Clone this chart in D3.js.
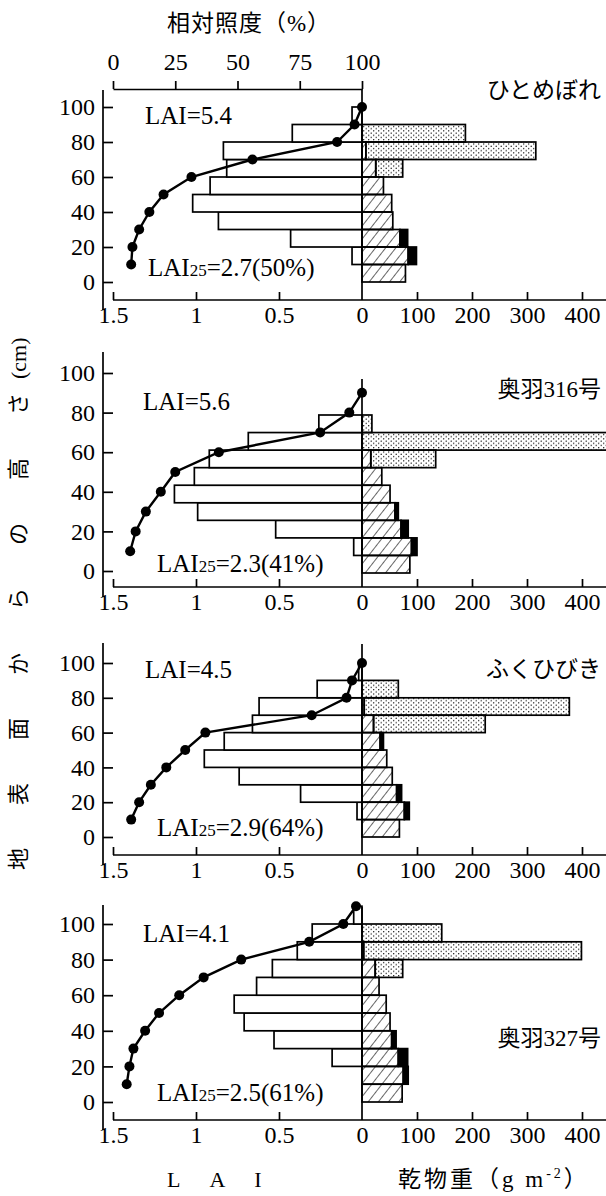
<!DOCTYPE html>
<html>
<head>
<meta charset="utf-8">
<script src="https://cdn.jsdelivr.net/npm/d3@7"></script>
<style>
  body { margin: 0; background: #fff; }
  svg { display: block; font-family: "Liberation Serif", "Noto Sans CJK JP", serif; }
</style>
</head>
<body>
<svg id="chart" width="606" height="1196"></svg>
<script>
// varieties and their labels
const varieties = ["ひとめぼれ", "奥羽316号", "ふくひびき", "奥羽327号"];
const laiTotals = ["5.4", "5.6", "4.5", "4.1"];
const lai25Values = ["2.7(50%)", "2.3(41%)", "2.9(64%)", "2.5(61%)"];

// LAI per 10 cm layer, from the bottom layer (0-10 cm) upward
const lai1 = [0, 0.06, 0.43, 0.865, 1.02, 0.915, 0.815, 0.835, 0.42, 0.06];
const lai2 = [0, 0.05, 0.52, 0.99, 1.13, 1.01, 0.92, 0.685, 0.26];
const lai3 = [0, 0.03, 0.37, 0.74, 0.95, 0.83, 0.66, 0.62, 0.27, 0.02];
const lai4 = [0, 0, 0.18, 0.53, 0.71, 0.77, 0.635, 0.54, 0.39, 0.30, 0.05];

// dry weight (g m-2) per layer: stem (hatched), dead (black), ear (dotted)
const stem1 = [79, 84, 69, 56, 54, 39, 25, 7, 0, 0];
const dead1 = [0, 15, 14, 0, 0, 0, 0, 0, 0, 0];
const ear1  = [0, 0, 0, 0, 0, 0, 49, 309, 188, 0];

const stem2 = [87, 90, 71, 60, 51, 36, 16, 0, 0];
const dead2 = [0, 10, 13, 6, 0, 0, 0, 0, 0];
const ear2  = [0, 0, 0, 0, 0, 0, 118, 470, 18];

const stem3 = [68, 77, 63, 55, 45, 33, 21, 4, 0, 0];
const dead3 = [0, 9, 9, 0, 0, 6, 0, 0, 0, 0];
const ear3  = [0, 0, 0, 0, 0, 0, 203, 373, 66, 0];

const stem4 = [73, 75, 66, 54, 51, 44, 31, 24, 3, 0, 0];
const dead4 = [0, 9, 17, 8, 0, 0, 0, 0, 0, 0, 0];
const ear4  = [0, 0, 0, 0, 0, 0, 0, 50, 396, 145, 0];

// relative light intensity (%) by height (cm)
const lightH1 = [10, 20, 30, 40, 50, 60, 70, 80, 90, 100];
const light1  = [7.3, 7.8, 10.5, 14.6, 20.3, 31.5, 56, 90, 97, 100];
const lightH2 = [10, 20, 30, 40, 50, 60, 70, 80, 90];
const light2  = [6.9, 9.1, 13.2, 19.2, 25, 42.5, 83.2, 94.9, 100];
const lightH3 = [10, 20, 30, 40, 50, 60, 70, 80, 90, 100];
const light3  = [7.3, 10.5, 15.2, 21.4, 29, 37.1, 79.8, 93.8, 96, 100];
const lightH4 = [10, 20, 30, 40, 50, 60, 70, 80, 90, 100, 110];
const light4  = [5.5, 6.6, 8.2, 12.9, 18.5, 26.6, 36.4, 51.5, 78.8, 92.5, 97.6];

// tick labels
const heightTicks = [0, 20, 40, 60, 80, 100];
const laiTicks = [1.5, 1, 0.5, 0];
const weightTicks = [100, 200, 300, 400];
const lightTicks = [0, 25, 50, 75, 100];
const layerDepth = 10;

const panels = [
  { lai: lai1, stem: stem1, dead: dead1, ear: ear1, h: lightH1, v: light1 },
  { lai: lai2, stem: stem2, dead: dead2, ear: ear2, h: lightH2, v: light2 },
  { lai: lai3, stem: stem3, dead: dead3, ear: ear3, h: lightH3, v: light3 },
  { lai: lai4, stem: stem4, dead: dead4, ear: ear4, h: lightH4, v: light4 }
];

// page layout of each panel (pixels)
const layout = [
  { y0: 282, y100: 107, barY0: 282, barTopH: 100, barTopY: 107, axisY: 300, axTop: 90, axBot: 310, zeroTop: 89,
    laiX: 145, laiY: 124, l25X: 148, l25Y: 276, nameY: 98 },
  { y0: 571, y100: 373, barY0: 573, barTopH: 90, barTopY: 415, axisY: 587, axTop: 352, axBot: 597, zeroTop: 379,
    laiX: 143, laiY: 410, l25X: 157, l25Y: 572, nameY: 397 },
  { y0: 837, y100: 663, barY0: 837, barTopH: 100, barTopY: 663, axisY: 855, axTop: 643, axBot: 865, zeroTop: 644,
    laiX: 145, laiY: 678, l25X: 157, l25Y: 836, nameY: 677 },
  { y0: 1102, y100: 924, barY0: 1102, barTopH: 100, barTopY: 924, axisY: 1120, axTop: 905, axBot: 1130, zeroTop: 907,
    laiX: 143, laiY: 942, l25X: 157, l25Y: 1101, nameY: 1046 }
];

const svg = d3.select("#chart");
svg.append("rect").attr("width", 606).attr("height", 1196).attr("fill", "#fff");

// patterns
const defs = svg.append("defs");
defs.append("pattern")
  .attr("id", "hatch")
  .attr("patternUnits", "userSpaceOnUse")
  .attr("width", 8).attr("height", 8)
  .attr("patternTransform", "rotate(38)")
  .append("line")
  .attr("x1", 0).attr("y1", 0).attr("x2", 0).attr("y2", 8)
  .attr("stroke", "#000").attr("stroke-width", 1.2);

const dots = defs.append("pattern")
  .attr("id", "dots")
  .attr("patternUnits", "userSpaceOnUse")
  .attr("width", 5).attr("height", 4.4);
dots.append("circle").attr("cx", 1.2).attr("cy", 1.1).attr("r", 0.7).attr("fill", "#000");
dots.append("circle").attr("cx", 3.7).attr("cy", 3.3).attr("r", 0.7).attr("fill", "#000");

// shared x scales
const xLai = d3.scaleLinear().domain([0, 1.5]).range([362, 113]);
const xDw = d3.scaleLinear().domain([0, 400]).range([362, 582]);
const xLight = d3.scaleLinear().domain([0, 100]).range([113, 362]);

const tickFont = "24px";

panels.forEach((p, k) => {
  const L = layout[k];
  const g = svg.append("g");
  const y = d3.scaleLinear().domain([0, 100]).range([L.y0, L.y100]);
  const yb = d3.scaleLinear().domain([0, L.barTopH]).range([L.barY0, L.barTopY]);

  // LAI bars (left)
  g.selectAll(".lai")
    .data(p.lai.map((v, i) => ({ v, i })).filter(d => d.v > 0))
    .enter().append("rect")
    .attr("x", d => xLai(d.v))
    .attr("width", d => xLai(0) - xLai(d.v))
    .attr("y", d => yb((d.i + 1) * layerDepth))
    .attr("height", d => yb(d.i * layerDepth) - yb((d.i + 1) * layerDepth))
    .attr("fill", "#fff").attr("stroke", "#000").attr("stroke-width", 1.7);

  // dry weight bars (right), stacked: stem, dead, ear
  const segs = [];
  p.stem.forEach((s, i) => {
    const d = p.dead[i], e = p.ear[i];
    if (s > 0) segs.push({ i, a: 0, b: s, fill: "url(#hatch)" });
    if (d > 0) segs.push({ i, a: s, b: s + d, fill: "#000" });
    if (e > 0) segs.push({ i, a: s + d, b: s + d + e, fill: "url(#dots)" });
  });
  g.selectAll(".dw")
    .data(segs)
    .enter().append("rect")
    .attr("x", d => xDw(d.a))
    .attr("width", d => xDw(d.b) - xDw(d.a))
    .attr("y", d => yb((d.i + 1) * layerDepth))
    .attr("height", d => yb(d.i * layerDepth) - yb((d.i + 1) * layerDepth))
    .attr("fill", d => d.fill).attr("stroke", "#000").attr("stroke-width", 1.7);

  // zero line
  g.append("line")
    .attr("x1", xLai(0)).attr("x2", xLai(0))
    .attr("y1", L.zeroTop).attr("y2", L.axisY)
    .attr("stroke", "#000").attr("stroke-width", 1.7);

  // left height axis
  g.append("line")
    .attr("x1", 103).attr("x2", 103)
    .attr("y1", L.axTop).attr("y2", L.axBot)
    .attr("stroke", "#000").attr("stroke-width", 1.7);
  const ya = g.append("g")
    .attr("transform", "translate(103,0)")
    .call(d3.axisLeft(y).tickValues(heightTicks).tickSizeInner(-10).tickSizeOuter(0).tickPadding(8));

  // bottom axis
  g.append("line")
    .attr("x1", 113).attr("x2", 606)
    .attr("y1", L.axisY).attr("y2", L.axisY)
    .attr("stroke", "#000").attr("stroke-width", 1.7);
  const xa1 = g.append("g")
    .attr("transform", `translate(0,${L.axisY})`)
    .call(d3.axisBottom(xLai).tickValues(laiTicks).tickFormat(d => String(d))
      .tickSizeInner(-8).tickSizeOuter(0).tickPadding(6));
  const xa2 = g.append("g")
    .attr("transform", `translate(0,${L.axisY})`)
    .call(d3.axisBottom(xDw).tickValues(weightTicks).tickFormat(d => String(d))
      .tickSizeInner(-8).tickSizeOuter(0).tickPadding(6));
  [ya, xa1, xa2].forEach(a => {
    a.select(".domain").remove();
    a.selectAll("line").attr("stroke-width", 1.7);
    a.selectAll("text").attr("font-size", tickFont).attr("font-family", "Liberation Serif").attr("fill", "#000");
    a.attr("font-size", null).attr("font-family", null);
  });
  xa1.selectAll(".tick").filter(d => d === 0).select("line").remove();

  // light profile
  const pts = p.h.map((h, i) => ({ h, v: p.v[i] }));
  g.append("path")
    .datum(pts)
    .attr("d", d3.line().x(d => xLight(d.v)).y(d => y(d.h)))
    .attr("fill", "none").attr("stroke", "#000").attr("stroke-width", 2.4);
  g.selectAll(".pt")
    .data(pts)
    .enter().append("circle")
    .attr("cx", d => xLight(d.v)).attr("cy", d => y(d.h))
    .attr("r", 5).attr("fill", "#000");

  // labels
  g.append("text")
    .attr("x", L.laiX).attr("y", L.laiY)
    .attr("font-size", "25px")
    .text("LAI=" + laiTotals[k]);
  const t25 = g.append("text")
    .attr("x", L.l25X).attr("y", L.l25Y)
    .attr("font-size", "25px");
  t25.append("tspan").text("LAI");
  t25.append("tspan").attr("font-size", "17px").text("25");
  t25.append("tspan").text("=" + lai25Values[k]);
  g.append("text")
    .attr("x", 601).attr("y", L.nameY)
    .attr("text-anchor", "end")
    .attr("font-size", "23px")
    .text(varieties[k]);
});

// top axis: relative light intensity
const ta = svg.append("g")
  .attr("transform", "translate(0,89)")
  .call(d3.axisTop(xLight).tickValues(lightTicks).tickSizeInner(8).tickSizeOuter(0).tickPadding(11));
ta.select(".domain").attr("stroke-width", 1.7);
ta.selectAll("line").attr("stroke-width", 1.7);
ta.selectAll("text").attr("font-size", tickFont).attr("font-family", "Liberation Serif").attr("fill", "#000");
ta.attr("font-size", null).attr("font-family", null);

svg.append("text")
  .attr("x", 249).attr("y", 31)
  .attr("text-anchor", "middle")
  .attr("font-size", "23px")
  .attr("letter-spacing", "1px")
  .text("相対照度（%）");

// y title
const yt = svg.append("text")
  .attr("transform", "translate(26,870) rotate(-90)")
  .attr("font-size", "22px");
yt.append("tspan").attr("letter-spacing", "43px").text("地表面からの高");
yt.append("tspan").attr("letter-spacing", "14px").text("さ");
yt.append("tspan").text("(cm)");

// bottom titles
svg.append("text")
  .attr("x", 167).attr("y", 1187)
  .attr("font-size", "22px")
  .attr("letter-spacing", "29px")
  .text("LAI");
const bt = svg.append("text")
  .attr("x", 398).attr("y", 1187)
  .attr("font-size", "23px")
  .attr("letter-spacing", "3px");
bt.append("tspan").text("乾物重（g m");
bt.append("tspan").attr("font-size", "14px").attr("dy", "-9").text("-2");
bt.append("tspan").attr("dy", "9").text("）");
</script>
</body>
</html>
